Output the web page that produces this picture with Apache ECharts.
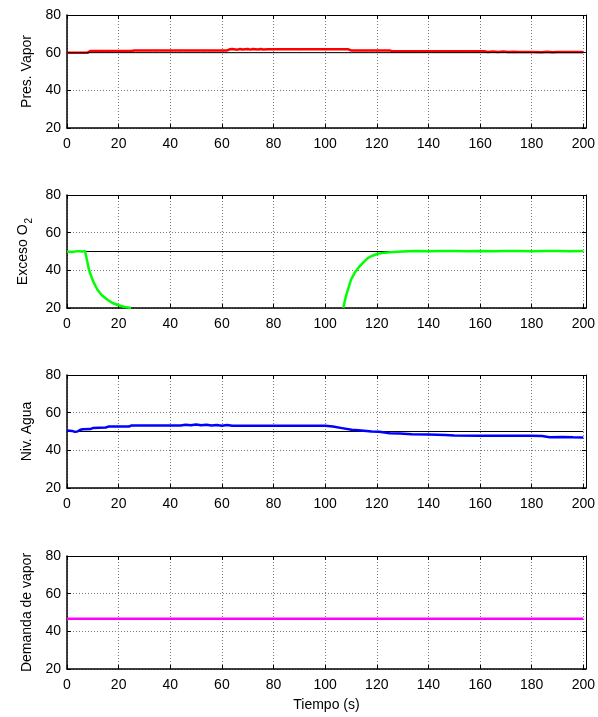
<!DOCTYPE html>
<html><head><meta charset="utf-8">
<script src="https://cdn.jsdelivr.net/npm/echarts@6/dist/echarts.min.js"></script>
<style>html,body{margin:0;padding:0;background:#fff}#c{width:598px;height:717px}</style>
</head><body><div id="c"></div>
<script>
// ---- data ----
const yAxisNames = ['Pres. Vapor', 'Exceso O{s|2}', 'Niv. Agua', 'Demanda de vapor'];
const xAxisName = 'Tiempo (s)';

const presT = [0, 8, 9, 25, 26, 62, 63, 64, 66, 67, 68, 70, 71, 72, 74, 75, 76, 78, 80, 109, 110, 125, 126, 158, 162, 163, 165, 167, 169, 171, 173, 175, 180, 184, 186, 188, 190, 200];
const presV = [60, 60, 60.9, 60.9, 61.2, 61.2, 61.8, 61.9, 61.6, 61.9, 61.7, 61.9, 61.6, 61.9, 61.7, 61.9, 61.7, 61.8, 61.8, 61.8, 61.2, 61.2, 60.7, 60.7, 60.7, 60.4, 60.6, 60.4, 60.6, 60.4, 60.5, 60.35, 60.3, 60.2, 60.45, 60.2, 60.35, 60.3];
const presRefT = [0, 200];
const presRefV = [60, 60];

const o2T = [0, 2, 4, 6, 7, 7.5, 8.5, 10, 11.8, 13.5, 15.7, 17.5, 19.6, 22, 24.8, 25, 107, 108, 110, 111.5, 113.3, 115, 116.5, 118, 120.4, 123, 126.8, 130, 135, 140, 145, 150, 155, 160, 165, 170, 175, 180, 185, 190, 195, 200];
const o2V = [50, 49.7, 50.2, 50, 50.3, 47, 40.3, 34.5, 29.7, 26.8, 24.4, 22.8, 21.6, 20.7, 20, null, 20, 26, 35, 38.8, 42.1, 44.5, 46.5, 47.6, 48.8, 49.4, 49.8, 50, 50.2, 50.1, 50.3, 50.2, 50.1, 50.3, 50.1, 50.2, 50.3, 50.1, 50.2, 50.3, 50.1, 50.2];
const o2RefT = [0, 200];
const o2RefV = [50, 50];

const aguaT = [0, 2, 3, 4, 5, 6, 9, 10, 15, 16, 24, 25, 44, 46, 48, 50, 52, 54, 56, 58, 60, 62, 64, 100, 103, 106.5, 110.3, 114, 118, 121, 125, 129, 133.5, 140, 146.5, 150, 160, 170, 175, 180, 184, 187, 192, 196, 200];
const aguaV = [50.5, 50.3, 49.8, 50, 50.8, 51.2, 51.3, 51.8, 52.1, 52.6, 52.6, 53.2, 53.2, 53.6, 53.3, 53.7, 53.3, 53.6, 53.2, 53.5, 53.1, 53.4, 53, 53, 52.6, 51.8, 50.9, 50.5, 50, 49.9, 49.1, 48.9, 48.6, 48.4, 48.1, 47.9, 47.8, 47.8, 47.7, 47.7, 47.6, 47, 47.1, 46.9, 46.8];
const aguaRefT = [0, 200];
const aguaRefV = [50, 50];

const demandaT = [0, 200];
const demandaV = [46.7, 46.7];

const xTickStep = 20;
const yTickStep = 20;

// ---- build ----
function pairs(t, v) { return t.map((x, i) => [x, v[i]]); }

const panels = [
  { name: yAxisNames[0], line: pairs(presT, presV), color: '#ff0000', ref: pairs(presRefT, presRefV), refOnTop: true },
  { name: yAxisNames[1], line: pairs(o2T, o2V), color: '#00ff00', ref: pairs(o2RefT, o2RefV), refOnTop: false },
  { name: yAxisNames[2], line: pairs(aguaT, aguaV), color: '#0000ff', ref: pairs(aguaRefT, aguaRefV), refOnTop: false },
  { name: yAxisNames[3], line: pairs(demandaT, demandaV), color: '#ff00ff', ref: null }
];

const tops = [15, 195, 375, 556];
const FONT = 'Liberation Sans, Arial, sans-serif';
const grid = [], xAxis = [], yAxis = [], series = [];
const gridLine = { show: true, lineStyle: { color: '#7a7a7a', type: [1, 2], width: 1 } };

panels.forEach((p, i) => {
  grid.push({ left: 67, top: tops[i], width: 519, height: 113, containLabel: false });
  // bottom x
  xAxis.push({
    type: 'value', gridIndex: i, min: 0, max: 201, interval: xTickStep, position: 'bottom',
    axisLine: { show: true, onZero: false, lineStyle: { color: '#000', width: 1.5 } },
    axisTick: { show: true, inside: true, length: 4, lineStyle: { color: '#000' } },
    axisLabel: { show: true, margin: 9, color: '#000', fontSize: 14, fontFamily: FONT,
      formatter: v => (v % 20 === 0 ? String(v) : ''), showMaxLabel: false },
    splitLine: gridLine,
    name: i === 3 ? xAxisName : '', nameLocation: 'middle', nameGap: 29,
    nameTextStyle: { color: '#000', fontSize: 14, fontFamily: FONT }
  });
  // top x
  xAxis.push({
    type: 'value', gridIndex: i, min: 0, max: 201, interval: xTickStep, position: 'top',
    axisLine: { show: true, onZero: false, lineStyle: { color: '#000', width: 1 } },
    axisTick: { show: true, inside: true, length: 4, lineStyle: { color: '#000' } },
    axisLabel: { show: false }, splitLine: { show: false }
  });
  // left y
  yAxis.push({
    type: 'value', gridIndex: i, min: 20, max: 80, interval: yTickStep, position: 'left',
    axisLine: { show: true, onZero: false, lineStyle: { color: '#000', width: 1.5 } },
    axisTick: { show: true, inside: true, length: 4, lineStyle: { color: '#000' } },
    axisLabel: { show: true, margin: 6, color: '#000', fontSize: 14, fontFamily: FONT },
    splitLine: gridLine,
    name: p.name, nameLocation: 'middle', nameGap: i === 1 ? 32 : 33, nameRotate: 90,
    nameTextStyle: { color: '#000', fontSize: 14, fontFamily: FONT, lineHeight: 14,
      rich: { s: { fontSize: 10, fontFamily: FONT, color: '#000', padding: [12, 0, 0, 1] } } }
  });
  // right y
  yAxis.push({
    type: 'value', gridIndex: i, min: 20, max: 80, interval: yTickStep, position: 'right',
    axisLine: { show: true, onZero: false, lineStyle: { color: '#000', width: 1 } },
    axisTick: { show: true, inside: true, length: 4, lineStyle: { color: '#000' } },
    axisLabel: { show: false }, splitLine: { show: false }
  });

  const main = {
    type: 'line', xAxisIndex: 2 * i, yAxisIndex: 2 * i, data: p.line,
    showSymbol: false, symbol: 'none', connectNulls: false, animation: false,
    lineStyle: { color: p.color, width: 2.5 }, z: 3
  };
  series.push(main);
  if (p.ref) {
    series.push({
      type: 'line', xAxisIndex: 2 * i, yAxisIndex: 2 * i, data: p.ref,
      showSymbol: false, symbol: 'none', animation: false,
      lineStyle: { color: '#000', width: 1 }, z: p.refOnTop ? 4 : 2
    });
  }
});

const chart = echarts.init(document.getElementById('c'), null, { renderer: 'canvas' });
chart.setOption({ animation: false, backgroundColor: '#fff', grid, xAxis, yAxis, series });
</script>
</body></html>
